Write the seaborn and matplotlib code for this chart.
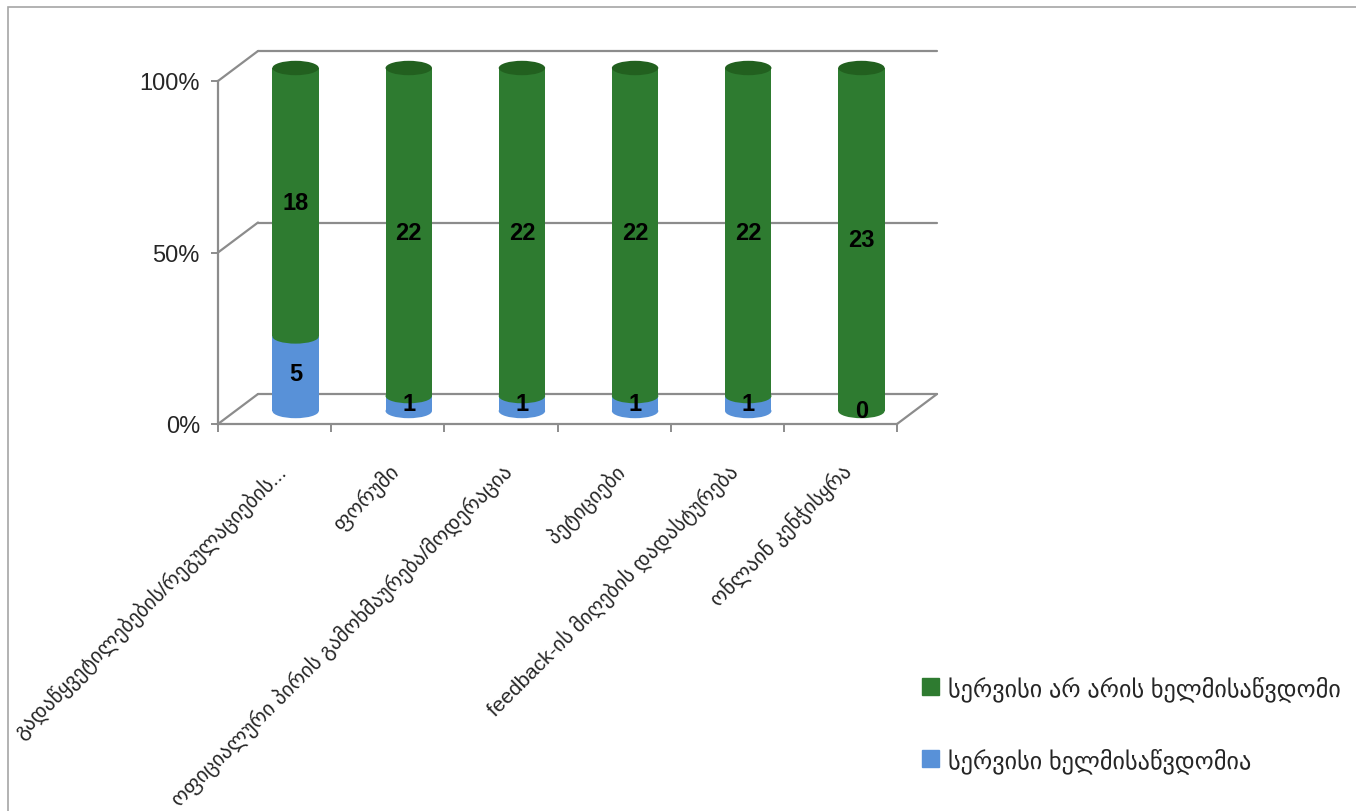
#!/usr/bin/env python3
"""Availability of e-participation services: 100% stacked bars (Georgian labels)."""

import matplotlib.pyplot as plt
import matplotlib.patches as mpatches
import pandas as pd
import seaborn as sns

CATEGORIES = [
    "გადაწყვეტილებების/რეგულაციების...",
    "ფორუმი",
    "ოფიციალური პირის გამოხმაურება/მოდერაცია",
    "პეტიციები",
    "feedback-ის მიღების დადასტურება",
    "ონლაინ კენჭისყრა",
]
AVAILABLE = [5, 1, 1, 1, 1, 0]
NOT_AVAILABLE = [18, 22, 22, 22, 22, 23]

LABEL_NOT = "სერვისი არ არის ხელმისაწვდომი"
LABEL_AV = "სერვისი ხელმისაწვდომია"

GREEN = "#2E7B30"
GREEN_TOP = "#22601F"
BLUE = "#5891D8"
GRID = "#8C8C8C"

W, H = 1356, 812
CAP_H = 4.2  # cylinder cap height, in percent units


def main() -> None:
    sns.set_theme(style="white")
    plt.rcParams["font.family"] = ["Liberation Sans", "DejaVu Sans"]

    totals = [a + n for a, n in zip(AVAILABLE, NOT_AVAILABLE)]
    df = pd.DataFrame({
        "category": CATEGORIES,
        "av_pct": [a / t * 100 for a, t in zip(AVAILABLE, totals)],
        "total_pct": [100.0] * len(CATEGORIES),
    })

    fig = plt.figure(figsize=(W / 100, H / 100), dpi=100)

    # front plane of the pseudo-3D plot area
    x0, x1, y0, y1 = 218, 897, 425, 82
    ax = fig.add_axes([x0 / W, (H - y0) / H, (x1 - x0) / W, (y0 - y1) / H])
    ax.set_facecolor("none")
    ax.set_xlim(-0.5, len(CATEGORIES) - 0.5)
    ax.set_ylim(0, 100)

    # depth offset of the back wall (axes fraction)
    dx = 40 / (x1 - x0)
    dy = 30 / (y0 - y1)
    line_kw = dict(color=GRID, lw=1.6, transform=ax.transAxes, clip_on=False)
    for yf in (0.0, 0.5, 1.0):
        ax.plot([0, dx], [yf, yf + dy], **line_kw)
        ax.plot([dx, 1 + dx], [yf + dy, yf + dy], **line_kw)
    ax.plot([1, 1 + dx], [0, dy], **line_kw)

    for side in ("top", "right"):
        ax.spines[side].set_visible(False)
    for side in ("left", "bottom"):
        ax.spines[side].set_color(GRID)
        ax.spines[side].set_linewidth(1.6)

    ax.set_yticks([0, 50, 100])
    ax.set_yticklabels(["0%", "50%", "100%"], fontsize=17)
    ax.tick_params(axis="y", left=True, length=5, width=1.4, color=GRID, pad=8)

    ax.set_xticks(range(len(CATEGORIES)))
    ax.set_xticklabels(CATEGORIES, rotation=45, ha="right",
                       rotation_mode="anchor", fontsize=15)
    ax.tick_params(axis="x", which="major", bottom=False, pad=20)
    ax.set_xticks([i - 0.5 for i in range(len(CATEGORIES) + 1)], minor=True)
    ax.tick_params(axis="x", which="minor", bottom=True, length=6,
                   width=1.4, color=GRID)

    # bars sit half-way into the depth
    bx = ax.get_position()
    bax = fig.add_axes([bx.x0 + 21 / W, bx.y0 + 13 / H, bx.width, bx.height])
    bax.set_facecolor("none")
    sns.barplot(data=df, x="category", y="total_pct", color=GREEN,
                saturation=1, width=0.41, linewidth=0, ax=bax)
    sns.barplot(data=df, x="category", y="av_pct", color=BLUE,
                saturation=1, width=0.41, linewidth=0, ax=bax)
    bax.set_xlim(-0.5, len(CATEGORIES) - 0.5)
    bax.set_ylim(0, 100)
    bax.axis("off")

    # cylinder caps taken from the drawn bars
    cap_kw = dict(lw=0, zorder=3, clip_on=False)
    green_bars = bax.containers[0]
    for rect, p in zip(green_bars, df["av_pct"]):
        cx = rect.get_x() + rect.get_width() / 2
        w = rect.get_width()
        bottom_col = BLUE if p > 0 else GREEN
        bax.add_patch(mpatches.Ellipse((cx, 0), w, CAP_H,
                                       color=bottom_col, **cap_kw))
        if p > 0:
            bax.add_patch(mpatches.Ellipse((cx, p), w, CAP_H,
                                           color=GREEN, **cap_kw))
        bax.add_patch(mpatches.Ellipse((cx, rect.get_height()), w, CAP_H,
                                       color=GREEN_TOP, **cap_kw))

    lab_kw = dict(ha="center", va="center", fontsize=17, fontweight="bold",
                  color="black", zorder=5)
    for i, (a, n, p) in enumerate(zip(AVAILABLE, NOT_AVAILABLE, df["av_pct"])):
        bax.text(i, p / 2, str(a), **lab_kw)
        bax.text(i, (p + 100) / 2, str(n), **lab_kw)

    handles = [
        mpatches.Patch(color=GREEN, label=LABEL_NOT),
        mpatches.Patch(color=BLUE, label=LABEL_AV),
    ]
    fig.legend(handles=handles, loc="center left",
               bbox_to_anchor=(0.664, 0.107), frameon=False, fontsize=17.5,
               handlelength=0.7, handleheight=0.7, handletextpad=0.35,
               labelspacing=1.9)

    # outer chart border
    fig.patches.append(mpatches.Rectangle(
        (8 / W, -0.05), 1.2, 1 - 8 / H + 0.05, transform=fig.transFigure,
        fill=False, edgecolor="#A6A6A6", lw=1.2))

    fig.savefig("out.png", dpi=100)
    plt.close(fig)


if __name__ == "__main__":
    main()
